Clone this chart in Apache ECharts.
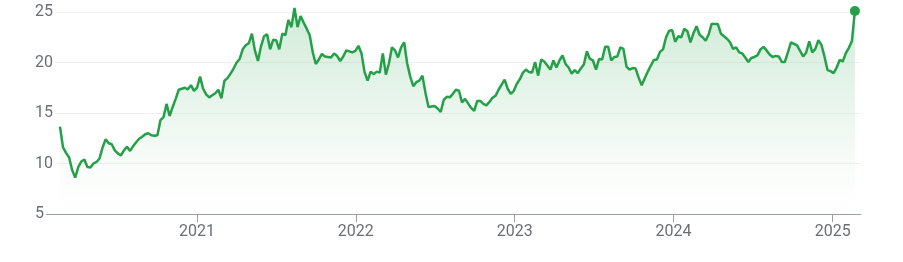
<!DOCTYPE html>
<html>
<head>
<meta charset="utf-8">
<script src="https://cdn.jsdelivr.net/npm/echarts@6/dist/echarts.min.js"></script>
<style>
  html, body { margin: 0; padding: 0; background: #ffffff; }
  #chart { width: 903px; height: 262px; }
</style>
</head>
<body>
<div id="chart"></div>
<script>
// Weekly closing dates (Fridays)
const dates2020 = ['2020-02-21','2020-02-28','2020-03-06','2020-03-13','2020-03-20','2020-03-27','2020-04-03','2020-04-10','2020-04-17','2020-04-24','2020-05-01','2020-05-08','2020-05-15','2020-05-22','2020-05-29','2020-06-05','2020-06-12','2020-06-19','2020-06-26','2020-07-03','2020-07-10','2020-07-17','2020-07-24','2020-07-31','2020-08-07','2020-08-14','2020-08-21','2020-08-28','2020-09-04','2020-09-11','2020-09-18','2020-09-25','2020-10-02','2020-10-09','2020-10-16','2020-10-23','2020-10-30','2020-11-06','2020-11-13','2020-11-20','2020-11-27','2020-12-04','2020-12-11','2020-12-18','2020-12-25'];
const dates2021 = ['2021-01-01','2021-01-08','2021-01-15','2021-01-22','2021-01-29','2021-02-05','2021-02-12','2021-02-19','2021-02-26','2021-03-05','2021-03-12','2021-03-19','2021-03-26','2021-04-02','2021-04-09','2021-04-16','2021-04-23','2021-04-30','2021-05-07','2021-05-14','2021-05-21','2021-05-28','2021-06-04','2021-06-11','2021-06-18','2021-06-25','2021-07-02','2021-07-09','2021-07-16','2021-07-23','2021-07-30','2021-08-06','2021-08-13','2021-08-20','2021-08-27','2021-09-03','2021-09-10','2021-09-17','2021-09-24','2021-10-01','2021-10-08','2021-10-15','2021-10-22','2021-10-29','2021-11-05','2021-11-12','2021-11-19','2021-11-26','2021-12-03','2021-12-10','2021-12-17','2021-12-24','2021-12-31'];
const dates2022 = ['2022-01-07','2022-01-14','2022-01-21','2022-01-28','2022-02-04','2022-02-11','2022-02-18','2022-02-25','2022-03-04','2022-03-11','2022-03-18','2022-03-25','2022-04-01','2022-04-08','2022-04-15','2022-04-22','2022-04-29','2022-05-06','2022-05-13','2022-05-20','2022-05-27','2022-06-03','2022-06-10','2022-06-17','2022-06-24','2022-07-01','2022-07-08','2022-07-15','2022-07-22','2022-07-29','2022-08-05','2022-08-12','2022-08-19','2022-08-26','2022-09-02','2022-09-09','2022-09-16','2022-09-23','2022-09-30','2022-10-07','2022-10-14','2022-10-21','2022-10-28','2022-11-04','2022-11-11','2022-11-18','2022-11-25','2022-12-02','2022-12-09','2022-12-16','2022-12-23','2022-12-30'];
const dates2023 = ['2023-01-06','2023-01-13','2023-01-20','2023-01-27','2023-02-03','2023-02-10','2023-02-17','2023-02-24','2023-03-03','2023-03-10','2023-03-17','2023-03-24','2023-03-31','2023-04-07','2023-04-14','2023-04-21','2023-04-28','2023-05-05','2023-05-12','2023-05-19','2023-05-26','2023-06-02','2023-06-09','2023-06-16','2023-06-23','2023-06-30','2023-07-07','2023-07-14','2023-07-21','2023-07-28','2023-08-04','2023-08-11','2023-08-18','2023-08-25','2023-09-01','2023-09-08','2023-09-15','2023-09-22','2023-09-29','2023-10-06','2023-10-13','2023-10-20','2023-10-27','2023-11-03','2023-11-10','2023-11-17','2023-11-24','2023-12-01','2023-12-08','2023-12-15','2023-12-22','2023-12-29'];
const dates2024 = ['2024-01-05','2024-01-12','2024-01-19','2024-01-26','2024-02-02','2024-02-09','2024-02-16','2024-02-23','2024-03-01','2024-03-08','2024-03-15','2024-03-22','2024-03-29','2024-04-05','2024-04-12','2024-04-19','2024-04-26','2024-05-03','2024-05-10','2024-05-17','2024-05-24','2024-05-31','2024-06-07','2024-06-14','2024-06-21','2024-06-28','2024-07-05','2024-07-12','2024-07-19','2024-07-26','2024-08-02','2024-08-09','2024-08-16','2024-08-23','2024-08-30','2024-09-06','2024-09-13','2024-09-20','2024-09-27','2024-10-04','2024-10-11','2024-10-18','2024-10-25','2024-11-01','2024-11-08','2024-11-15','2024-11-22','2024-11-29','2024-12-06','2024-12-13','2024-12-20','2024-12-27'];
const dates2025 = ['2025-01-03','2025-01-10','2025-01-17','2025-01-24','2025-01-31','2025-02-07','2025-02-14','2025-02-21'];

// Weekly closing prices
const prices2020 = [13.65,11.6,11.05,10.6,9.35,8.6,9.65,10.2,10.4,9.65,9.6,10.0,10.15,10.5,11.6,12.4,12.0,11.9,11.3,11.0,10.8,11.3,11.65,11.25,11.7,12.1,12.45,12.65,12.9,13.0,12.8,12.75,12.8,14.3,14.6,15.9,14.7,15.6,16.4,17.3,17.4,17.5,17.35,17.75,17.2];
const prices2021 = [17.5,18.6,17.4,16.85,16.55,16.75,16.95,17.3,16.45,18.2,18.45,18.9,19.4,20.0,20.35,21.3,21.7,21.9,22.85,21.2,20.15,21.6,22.6,22.8,21.3,22.25,22.2,21.3,22.85,22.7,24.2,23.5,25.4,23.5,24.6,23.95,23.35,22.7,21.0,19.85,20.3,20.85,20.6,20.55,20.5,20.9,20.65,20.15,20.6,21.2,21.1,21.0,21.15];
const prices2022 = [21.65,20.9,19.05,18.2,19.1,18.85,19.1,19.0,20.9,18.8,19.9,21.5,21.2,20.5,21.5,22.0,19.9,18.6,17.65,18.05,18.2,18.7,17.0,15.6,15.65,15.7,15.45,15.1,16.3,16.6,16.55,16.9,17.3,17.2,16.05,16.4,15.95,15.5,15.2,16.2,16.2,15.9,15.75,16.1,16.5,16.7,17.3,17.8,18.3,17.4,16.9,17.2];
const prices2023 = [17.9,18.35,19.0,19.3,19.05,19.0,20.05,18.7,20.3,20.1,19.7,19.3,20.2,19.5,20.2,20.7,19.85,19.5,18.9,19.25,18.95,19.4,19.8,21.1,20.35,20.2,19.3,20.35,20.3,21.55,21.55,20.2,20.55,20.6,21.5,21.35,19.6,19.3,19.45,19.4,18.5,17.75,18.45,19.1,19.7,20.25,20.3,21.05,21.3,22.5,23.15,23.2];
const prices2024 = [22.05,22.6,22.5,23.35,23.1,22.0,22.9,23.6,22.75,22.5,22.15,22.8,23.85,23.8,23.8,22.85,22.6,22.35,22.0,21.35,21.5,21.0,20.9,20.5,20.05,20.45,20.55,20.7,21.3,21.55,21.2,20.8,20.55,20.65,20.6,20.05,20.05,21.0,22.0,21.85,21.7,21.15,20.6,21.0,22.1,21.0,21.35,22.2,21.75,20.6,19.25,19.15];
const prices2025 = [18.95,19.5,20.25,20.1,20.9,21.45,22.1,25.1];

// Axis labels
const yearTickLabels = ['2021','2022','2023','2024','2025'];
const yTicks = [5, 10, 15, 20, 25];
const xRange = ['2020-01-13', '2025-03-07'];

const toTime = s => echarts.time.parse(s).getTime();
const dates = [].concat(dates2020, dates2021, dates2022, dates2023, dates2024, dates2025);
const prices = [].concat(prices2020, prices2021, prices2022, prices2023, prices2024, prices2025);
const seriesData = dates.map((d, i) => [toTime(d), prices[i]]);
const lastPoint = seriesData[seriesData.length - 1];
const yearTickValues = yearTickLabels.map(y => toTime(y + '-01-01'));

const GREEN = '#24a148';
const chart = echarts.init(document.getElementById('chart'), null, { renderer: 'canvas' });
chart.setOption({
  animation: false,
  backgroundColor: '#ffffff',
  grid: { left: 43, right: 42, top: 12, bottom: 48, containLabel: false },
  xAxis: {
    type: 'value',
    min: toTime(xRange[0]),
    max: toTime(xRange[1]),
    axisLine: { show: true, lineStyle: { color: '#9aa0a6', width: 1 } },
    axisTick: { show: true, length: 8, lineStyle: { color: '#9aa0a6', width: 1 }, customValues: yearTickValues },
    axisLabel: {
      show: true, customValues: yearTickValues, margin: 10,
      color: '#6b6f73', fontSize: 16, fontFamily: 'Roboto, Arial, sans-serif',
      formatter: function (v) { return String(new Date(v).getFullYear()); }
    },
    splitLine: { show: false }
  },
  yAxis: {
    type: 'value',
    min: yTicks[0], max: yTicks[yTicks.length - 1], interval: 5,
    axisLine: { show: false },
    axisTick: { show: false },
    axisLabel: {
      align: 'left', margin: 8, color: '#6b6f73', fontSize: 16,
      fontFamily: 'Roboto, Arial, sans-serif',
      backgroundColor: '#ffffff', padding: [0, 2, 0, 0]
    },
    splitLine: { show: true, lineStyle: { color: '#f0f0f0', width: 1 } }
  },
  series: [
    {
      type: 'line',
      data: seriesData,
      showSymbol: false,
      clip: false,
      lineStyle: { color: GREEN, width: 2.5 },
      areaStyle: {
        color: new echarts.graphic.LinearGradient(0, 0, 0, 1, [
          { offset: 0, color: 'rgba(36,161,72,0.30)' },
          { offset: 0.8, color: 'rgba(36,161,72,0.03)' },
          { offset: 1, color: 'rgba(36,161,72,0)' }
        ])
      },
      z: 3
    },
    {
      type: 'scatter',
      data: [lastPoint],
      symbol: 'circle',
      symbolSize: 10,
      clip: false,
      itemStyle: { color: GREEN, opacity: 1 },
      z: 4
    }
  ]
});
</script>
</body>
</html>
